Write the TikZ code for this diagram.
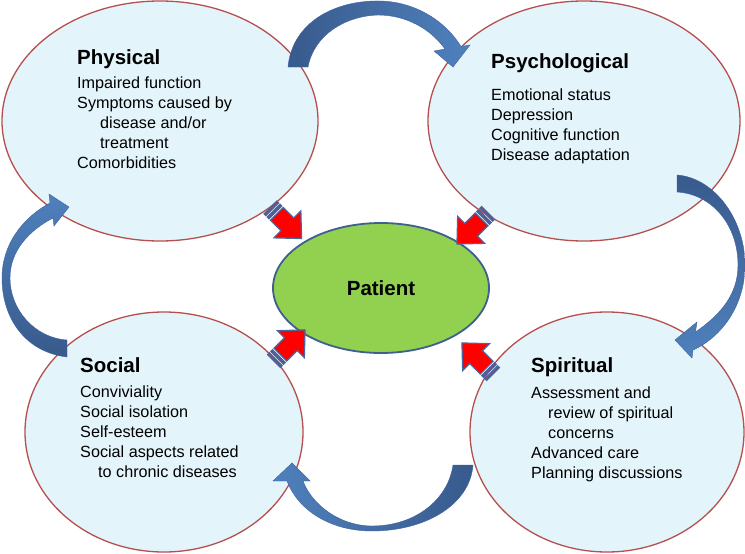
\documentclass[tikz,border=0pt]{standalone}
\usepackage{fontspec}
\setmainfont{Liberation Sans}
\usetikzlibrary{shapes.geometric}
\definecolor{ellfill}{HTML}{E4F4FB}
\definecolor{ellred}{HTML}{B5504E}
\definecolor{patfill}{HTML}{92D050}
\definecolor{patedge}{HTML}{3F5F8F}
\definecolor{arrdark}{HTML}{385A8C}
\definecolor{arrlight}{HTML}{4F81BD}
\definecolor{arredge}{HTML}{3D62A0}
\definecolor{redfill}{HTML}{FF0000}
\definecolor{arrblue}{HTML}{4A66A0}
\begin{document}
\begin{tikzpicture}[x=1pt,y=-1pt,
  ell/.style={ellipse, draw=ellred, line width=1.3pt, fill=ellfill, inner sep=0},
  ttl/.style={anchor=base west, inner sep=0, font=\fontsize{20.5}{24}\selectfont\bfseries},
  ln/.style={anchor=base west, inner sep=0, font=\fontsize{16.2}{20}\selectfont},
  bluearrow/.style={draw=arredge, line width=0.4pt},
  redarrow/.pic={
    \filldraw[fill=redfill, draw=arrblue, line width=1.2pt]
      (-13,-9) -- (2,-9) -- (2,-19) -- (22,0) -- (2,19) -- (2,9) -- (-13,9) -- cycle;
    \filldraw[fill=arrblue!80!red, draw=arrblue, line width=1.2pt] (-22,-9) rectangle (-19.5,9);
    \filldraw[fill=arrblue!80!red, draw=arrblue, line width=1.2pt] (-17.5,-9) rectangle (-15,9);
  }]
\useasboundingbox (0,0) rectangle (745,554);
\fill[white] (0,0) rectangle (745,554);

% ellipses
\node[ell, minimum width=316pt, minimum height=240pt] (phys) at (160,121) {};
\node[ell, minimum width=312pt, minimum height=240pt] (psych) at (584,121) {};
\node[ell, minimum width=278pt, minimum height=240pt] (soc) at (164,432) {};
\node[ell, minimum width=274pt, minimum height=240pt] (spir) at (607,432) {};
\node[ellipse, draw=patedge, line width=1.8pt, fill=patfill, minimum width=216pt, minimum height=130pt, inner sep=0] (pat) at (381,288) {};
\node[font=\fontsize{20.5}{24}\selectfont\bfseries, inner sep=0] (pattxt) at (pat.center) {Patient};

% Physical text
\node[ttl] (physT) at (77,64) {Physical};
\node[ln] (ph1) at (77,88) {Impaired function};
\node[ln] (ph2) at (77,108) {Symptoms caused by};
\node[ln] (ph3) at (100,128) {disease and/or};
\node[ln] (ph4) at (100,148) {treatment};
\node[ln] (ph5) at (77,168) {Comorbidities};

% Psychological text
\node[ttl] (psyT) at (491,68) {Psychological};
\node[ln] (ps1) at (491,100) {Emotional status};
\node[ln] (ps2) at (491,120) {Depression};
\node[ln] (ps3) at (491,140) {Cognitive function};
\node[ln] (ps4) at (491,160) {Disease adaptation};

% Social text
\node[ttl] (socT) at (80,372) {Social};
\node[ln] (so1) at (80,397) {Conviviality};
\node[ln] (so2) at (80,417) {Social isolation};
\node[ln] (so3) at (80,437) {Self-esteem};
\node[ln] (so4) at (80,457) {Social aspects related};
\node[ln] (so5) at (98,477) {to chronic diseases};

% Spiritual text
\node[ttl] (spT) at (531,372) {Spiritual};
\node[ln] (sp1) at (531,398) {Assessment and};
\node[ln] (sp2) at (548,418) {review of spiritual};
\node[ln] (sp3) at (548,438) {concerns};
\node[ln] (sp4) at (531,458) {Advanced care};
\node[ln] (sp5) at (531,478) {Planning discussions};

% curved blue arrows
% Physical -> Psychological (top)
\shade[left color=arrdark, right color=arrlight] (288,67) .. controls (292,25) and (330,2) .. (375,1)
  .. controls (415,0) and (446,22) .. (461,46.5) -- (470,45) -- (453,67) -- (434,51) -- (445,49)
  .. controls (430,28) and (405,15) .. (378,15) .. controls (345,16) and (314,35) .. (308,67) -- cycle;
\draw[bluearrow] (288,67) .. controls (292,25) and (330,2) .. (375,1)
  .. controls (415,0) and (446,22) .. (461,46.5) -- (470,45) -- (453,67) -- (434,51) -- (445,49)
  .. controls (430,28) and (405,15) .. (378,15) .. controls (345,16) and (314,35) .. (308,67) -- cycle;

% Psychological -> Spiritual (right)
\shade[top color=arrdark, bottom color=arrlight] (677,175) .. controls (715,178) and (745,220) .. (745,265)
  .. controls (745,305) and (722,337) .. (693,350) -- (692,358) -- (675,340) -- (697,322) -- (695.5,332)
  .. controls (720,315) and (738,295) .. (738,265) .. controls (738,225) and (712,194) .. (677,192) -- cycle;
\draw[bluearrow] (677,175) .. controls (715,178) and (745,220) .. (745,265)
  .. controls (745,305) and (722,337) .. (693,350) -- (692,358) -- (675,340) -- (697,322) -- (695.5,332)
  .. controls (720,315) and (738,295) .. (738,265) .. controls (738,225) and (712,194) .. (677,192) -- cycle;

% Spiritual -> Social (bottom)
\shade[right color=arrdark, left color=arrlight] (473,465) .. controls (470,505) and (425,531) .. (372,531)
  .. controls (330,531) and (298,510) .. (287,481) -- (273,481) -- (292,463) -- (310,481) -- (303,481)
  .. controls (312,505) and (340,526) .. (372,526) .. controls (415,526) and (448,500) .. (453,465) -- cycle;
\draw[bluearrow] (473,465) .. controls (470,505) and (425,531) .. (372,531)
  .. controls (330,531) and (298,510) .. (287,481) -- (273,481) -- (292,463) -- (310,481) -- (303,481)
  .. controls (312,505) and (340,526) .. (372,526) .. controls (415,526) and (448,500) .. (453,465) -- cycle;

% Social -> Physical (left)
\shade[bottom color=arrdark, top color=arrlight] (67,357) .. controls (25,352) and (2,318) .. (2,278)
  .. controls (2,245) and (22,218) .. (50,203) -- (49,194) -- (69,207) -- (54,226) -- (53,218)
  .. controls (30,230) and (10,250) .. (10,278) .. controls (10,310) and (35,338) .. (67,340) -- cycle;
\draw[bluearrow] (67,357) .. controls (25,352) and (2,318) .. (2,278)
  .. controls (2,245) and (22,218) .. (50,203) -- (49,194) -- (69,207) -- (54,226) -- (53,218)
  .. controls (30,230) and (10,250) .. (10,278) .. controls (10,310) and (35,338) .. (67,340) -- cycle;

% red arrows towards Patient
\pic[rotate=-45] at (286,223) {redarrow};
\pic[rotate=-135] at (472.5,228.5) {redarrow};
\pic[rotate=45] at (289.5,345.5) {redarrow};
\pic[rotate=135] at (477.5,358.5) {redarrow};
\end{tikzpicture}
\end{document}
